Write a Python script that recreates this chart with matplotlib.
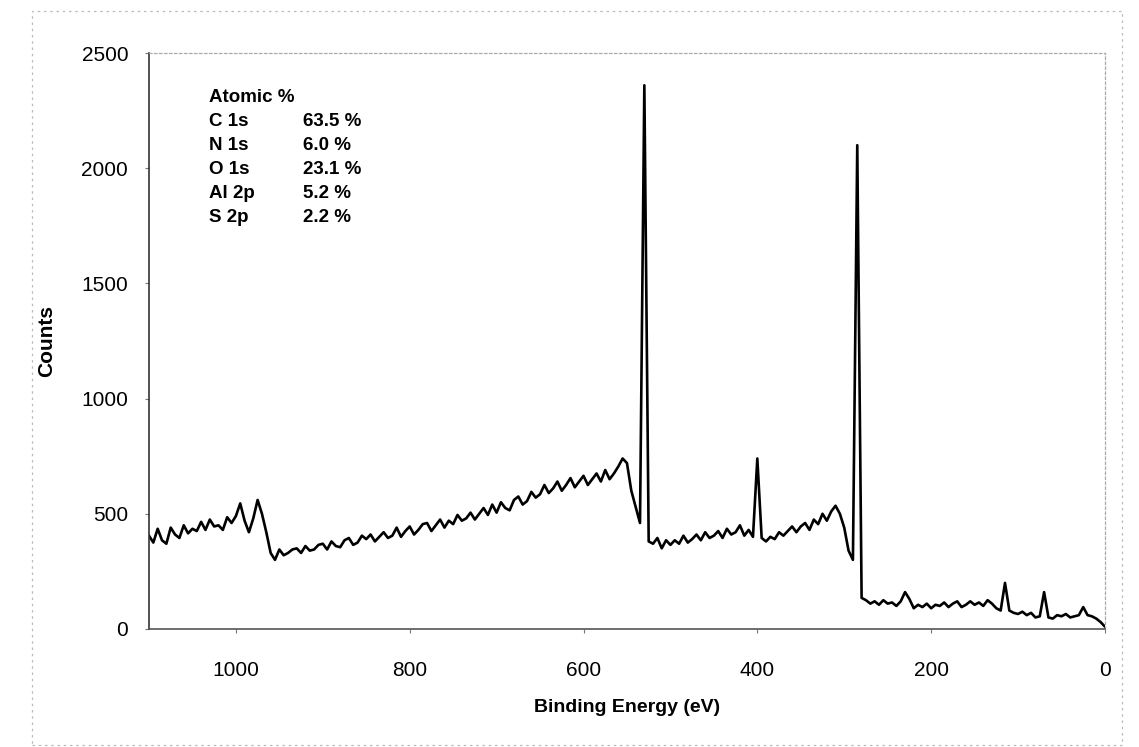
import numpy as np
import matplotlib.pyplot as plt
from matplotlib.patches import Rectangle

# binding energy grid (eV), 5 eV steps from 1100 down to 0
energy = np.arange(1100, -1, -5)

# counts, one row = 50 eV
counts = [
    405, 375, 435, 385, 370, 440, 410, 395, 450, 415,      # 1100-1055
    435, 425, 465, 430, 475, 445, 450, 430, 485, 460,      # 1050-1005
    490, 545, 470, 420, 480, 560, 500, 420, 330, 300,      # 1000-955
    345, 320, 330, 345, 350, 330, 360, 340, 345, 365,      # 950-905
    370, 345, 380, 360, 355, 385, 395, 365, 375, 405,      # 900-855
    390, 410, 380, 400, 420, 395, 405, 440, 400, 425,      # 850-805
    445, 410, 430, 455, 460, 425, 450, 475, 440, 470,      # 800-755
    455, 495, 470, 480, 505, 475, 500, 525, 495, 540,      # 750-705
    505, 550, 525, 515, 560, 575, 540, 555, 595, 570,      # 700-655
    585, 625, 590, 610, 640, 600, 625, 655, 615, 640,      # 650-605
    665, 625, 650, 675, 640, 690, 650, 675, 705, 740,      # 600-555
    720, 600, 530, 460, 2360, 380, 370, 395, 350, 385,     # 550-505
    365, 385, 370, 405, 375, 390, 410, 385, 420, 395,      # 500-455
    405, 425, 395, 435, 410, 420, 450, 405, 430, 400,      # 450-405
    740, 395, 380, 400, 390, 420, 405, 425, 445, 420,      # 400-355
    445, 460, 430, 475, 455, 500, 470, 510, 535, 500,      # 350-305
    440, 340, 300, 2100, 135, 125, 110, 120, 105, 125,     # 300-255
    110, 115, 100, 120, 160, 130, 90, 105, 95, 110,        # 250-205
    90, 105, 100, 115, 95, 110, 120, 95, 105, 120,         # 200-155
    105, 115, 100, 125, 110, 90, 80, 200, 80, 70,          # 150-105
    65, 75, 60, 70, 50, 55, 160, 50, 45, 60,               # 100-55
    55, 65, 50, 55, 60, 95, 60, 55, 45, 30,                # 50-5
    10,                                                    # 0
]

# atomic composition table
elements = ["C 1s", "N 1s", "O 1s", "Al 2p", "S 2p"]
atomic_pct = ["63.5 %", "6.0 %", "23.1 %", "5.2 %", "2.2 %"]

plt.rcParams['font.family'] = ['Liberation Sans', 'DejaVu Sans']

fig = plt.figure(figsize=(11.39, 7.47), dpi=100)
ax = fig.add_axes([0.1308, 0.158, 0.8393, 0.771])

ax.plot(energy, counts, color='black', lw=1.9)

ax.set_xlim(1100, 0)
ax.set_ylim(0, 2500)
ax.set_xticks([1000, 800, 600, 400, 200, 0])
ax.set_yticks([0, 500, 1000, 1500, 2000, 2500])
ax.tick_params(axis='both', labelsize=15, length=3, width=0.8, color='#777777')
ax.tick_params(axis='y', pad=12)
ax.tick_params(axis='x', pad=20)

ax.set_xlabel("Binding Energy (eV)", fontsize=14, fontweight='bold', labelpad=14)
ax.set_ylabel("Counts", fontsize=15, fontweight='bold', labelpad=18)

# solid left/bottom frame, faint dotted top/right
ax.spines['left'].set_color('#333333')
ax.spines['bottom'].set_color('#555555')
ax.spines['left'].set_linewidth(1.2)
ax.spines['bottom'].set_linewidth(1.2)
for side in ['top', 'right']:
    ax.spines[side].set_color('#aaaaaa')
    ax.spines[side].set_linestyle((0, (2, 2)))
    ax.spines[side].set_linewidth(0.9)

# composition table in the upper left
y0 = 0.922
dy = 0.0415
ax.text(0.063, y0, "Atomic %", transform=ax.transAxes, fontsize=13.5,
        fontweight='bold', va='center')
for i, (el, pct) in enumerate(zip(elements, atomic_pct)):
    yy = y0 - (i + 1) * dy
    ax.text(0.063, yy, el, transform=ax.transAxes, fontsize=13.5,
            fontweight='bold', va='center')
    ax.text(0.161, yy, pct, transform=ax.transAxes, fontsize=13.5,
            fontweight='bold', va='center')

# dotted outer frame of the figure
fig.patches.append(Rectangle((32 / 1139, 2 / 747), 1090 / 1139, 734 / 747,
                             transform=fig.transFigure, fill=False,
                             edgecolor='#bbbbbb', lw=0.9,
                             linestyle=(0, (2, 3))))

fig.savefig("out.png", dpi=100)
